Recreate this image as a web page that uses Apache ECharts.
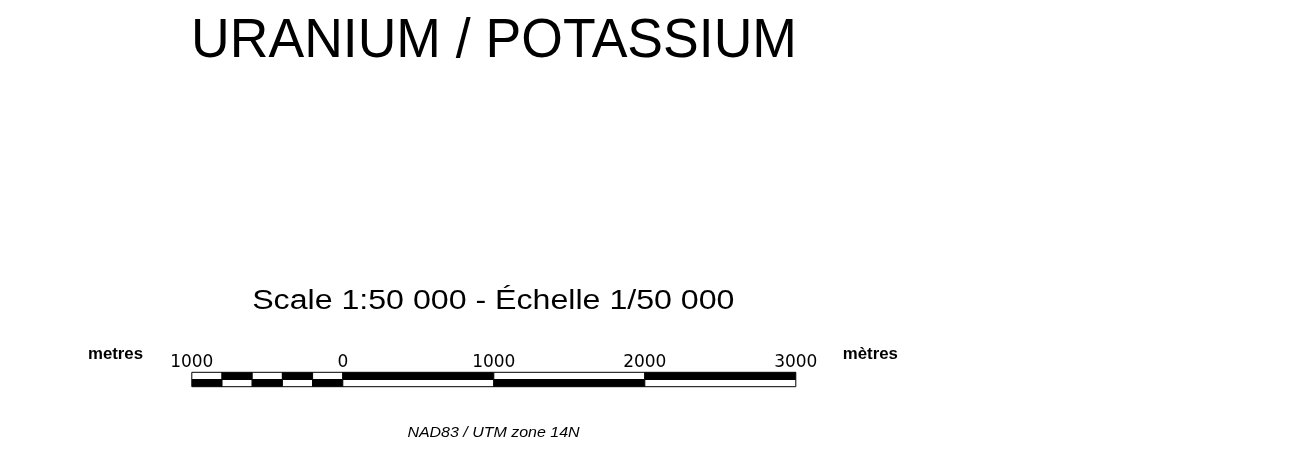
<!DOCTYPE html>
<html>
<head>
<meta charset="utf-8">
<script src="https://cdn.jsdelivr.net/npm/echarts@6/dist/echarts.min.js"></script>
<style>
  html, body { margin: 0; padding: 0; background: #fff; }
  #chart { width: 1300px; height: 465px; }
</style>
</head>
<body>
<div id="chart"></div>
<script>
// Scale bar data (metres)
var segmentBounds = [-1000, -800, -600, -400, -200, 0, 1000, 2000, 3000];
var topRowBlack = [0, 1, 0, 1, 0, 1, 0, 1];   // 1 = black, 0 = white
var bottomRowBlack = [1, 0, 1, 0, 1, 0, 1, 0];
var tickValues = [-1000, 0, 1000, 2000, 3000];
var tickLabels = ['1000', '0', '1000', '2000', '3000'];

var mapTitle = 'URANIUM / POTASSIUM';
var scaleText = 'Scale 1:50 000 - \u00C9chelle 1/50 000';
var unitLeft = 'metres';
var unitRight = 'm\u00E8tres';
var projText = 'NAD83 / UTM zone 14N';

var cells = [];
for (var i = 0; i < segmentBounds.length - 1; i++) {
  cells.push([segmentBounds[i], segmentBounds[i + 1], 1, topRowBlack[i]]);
  cells.push([segmentBounds[i], segmentBounds[i + 1], 0, bottomRowBlack[i]]);
}

var chart = echarts.init(document.getElementById('chart'), null, { renderer: 'canvas' });
chart.setOption({
  backgroundColor: '#ffffff',
  animation: false,
  grid: { left: 191.8, right: 504.2, top: 372.3, bottom: 78.3, containLabel: false },
  xAxis: {
    type: 'value',
    position: 'top',
    min: -1000,
    max: 3000,
    interval: 1000,
    axisLine: { show: false },
    axisTick: { show: false },
    splitLine: { show: false },
    axisLabel: {
      showMinLabel: true,
      showMaxLabel: true,
      margin: 10,
      verticalAlign: 'middle',
      color: '#000',
      fontFamily: 'DejaVu Sans',
      fontSize: 17,
      formatter: function (v) {
        var k = tickValues.indexOf(v);
        return k >= 0 ? tickLabels[k] : '';
      }
    }
  },
  yAxis: { type: 'value', min: 0, max: 2, show: false },
  series: [{
    type: 'custom',
    data: cells,
    renderItem: function (params, api) {
      var x0 = api.value(0), x1 = api.value(1), row = api.value(2), black = api.value(3);
      var p0 = api.coord([x0, row + 1]);
      var p1 = api.coord([x1, row]);
      return {
        type: 'rect',
        shape: { x: p0[0], y: p0[1], width: p1[0] - p0[0], height: p1[1] - p0[1] },
        style: { fill: black ? '#000' : '#fff', stroke: '#000', lineWidth: 1 }
      };
    }
  }],
  graphic: [
    { type: 'text', x: 494, y: 41.2, scaleX: 0.956,
      style: { text: mapTitle, font: '56px "Liberation Sans", Arial, sans-serif', fill: '#000', textAlign: 'center', textVerticalAlign: 'middle' } },
    { type: 'text', x: 493.3, y: 301.9, scaleX: 1.19,
      style: { text: scaleText, font: '27px "Liberation Sans", Arial, sans-serif', fill: '#000', textAlign: 'center', textVerticalAlign: 'middle' } },
    { type: 'text', x: 115.5, y: 354.7, scaleX: 1.05,
      style: { text: unitLeft, font: 'bold 16px "Liberation Sans", Arial, sans-serif', fill: '#000', textAlign: 'center', textVerticalAlign: 'middle' } },
    { type: 'text', x: 870.3, y: 354.7, scaleX: 1.05,
      style: { text: unitRight, font: 'bold 16px "Liberation Sans", Arial, sans-serif', fill: '#000', textAlign: 'center', textVerticalAlign: 'middle' } },
    { type: 'text', x: 493.5, y: 432.5, scaleX: 1.065,
      style: { text: projText, font: 'italic 15px "Liberation Sans", Arial, sans-serif', fill: '#000', textAlign: 'center', textVerticalAlign: 'middle' } }
  ]
});
</script>
</body>
</html>
